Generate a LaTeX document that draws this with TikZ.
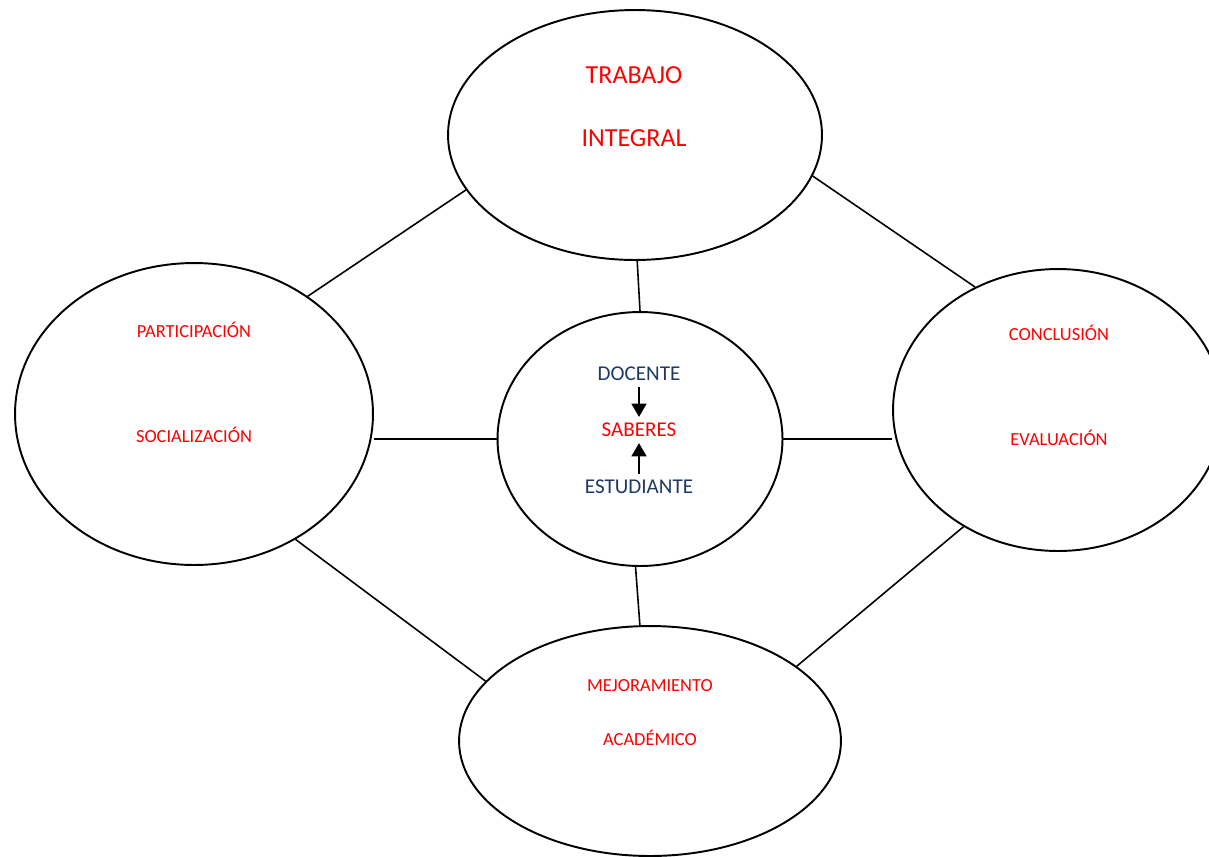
\documentclass[tikz,border=0pt]{standalone}
\usepackage{fontspec}
\setmainfont{Carlito}
\usepackage{tikz}
\usetikzlibrary{shapes.geometric,arrows.meta}

\definecolor{rojo}{RGB}{255,0,0}
\definecolor{azul}{RGB}{31,56,100}

\tikzset{
    bubble/.style={draw, ellipse, line width=1.1pt, inner sep=0pt},
    bigtxt/.style={text=rojo, font=\fontsize{14.8}{16}\selectfont},
    redtxt/.style={text=rojo, font=\fontsize{10.5}{12}\selectfont},
    midtxt/.style={font=\fontsize{12}{14}\selectfont},
    link/.style={line width=0.9pt},
    push/.style={line width=0.9pt, -{Triangle[length=7.5pt,width=8.5pt]}}
}

\begin{document}
\begin{tikzpicture}[x=0.02cm, y=-0.02cm]

    \clip (0,0) rectangle (1209,856);

    % Ellipses
    \node[bubble,
        minimum width=7.48cm,
        minimum height=5cm
    ] (integral) at (635,135) {};

    \node[bubble,
        minimum width=7.16cm,
        minimum height=6.04cm
    ] (social) at (194,414) {};

    \node[bubble,
        minimum width=5.7cm,
        minimum height=5.08cm
    ] (nucleo) at (640,439) {};

    \node[bubble,
        minimum width=6.6cm,
        minimum height=5.64cm
    ] (evalua) at (1058,410) {};

    \node[bubble,
        minimum width=7.64cm,
        minimum height=4.6cm
    ] (mejora) at (650,741) {};

    % Texts
    \node[bigtxt] (trabajo) at (634,75) {TRABAJO};
    \node[bigtxt] (integ) at (634,138) {INTEGRAL};

    \node[redtxt] (particip) at (194,330) {PARTICIPACIÓN};
    \node[redtxt] (socializ) at (194,435) {SOCIALIZACIÓN};

    \node[redtxt] (conclus) at (1059,333) {CONCLUSIÓN};
    \node[redtxt] (evaluac) at (1059,438) {EVALUACIÓN};

    \node[redtxt] (mejoram) at (650,686) {MEJORAMIENTO};
    \node[redtxt] (academ) at (650,738) {ACADÉMICO};

    \node[midtxt, text=azul] (docente) at (639,374) {DOCENTE};
    \node[midtxt, text=rojo] (saberes) at (639,430) {SABERES};
    \node[midtxt, text=azul] (estud) at (639,487) {ESTUDIANTE};

    % Arrows inside
    \draw[push] (docente.south) -- (saberes.north);
    \draw[push] (estud.north) -- (saberes.south);

    % Links
    \draw[link] (integral.271) -- (nucleo.north);
    \draw[link] (integral.198) -- (social.46);
    \draw[link] (integral.347) -- (evalua.124);
    \draw[link] (social.309) -- (mejora.160);
    \draw[link] (evalua.231) -- (mejora.27);
    \draw[link] (nucleo.268) -- (mejora.95);
    \draw[link] (nucleo.west) -- (social.east |- nucleo.west);
    \draw[link] (nucleo.east) -- (evalua.west |- nucleo.east);

\end{tikzpicture}
\end{document}
